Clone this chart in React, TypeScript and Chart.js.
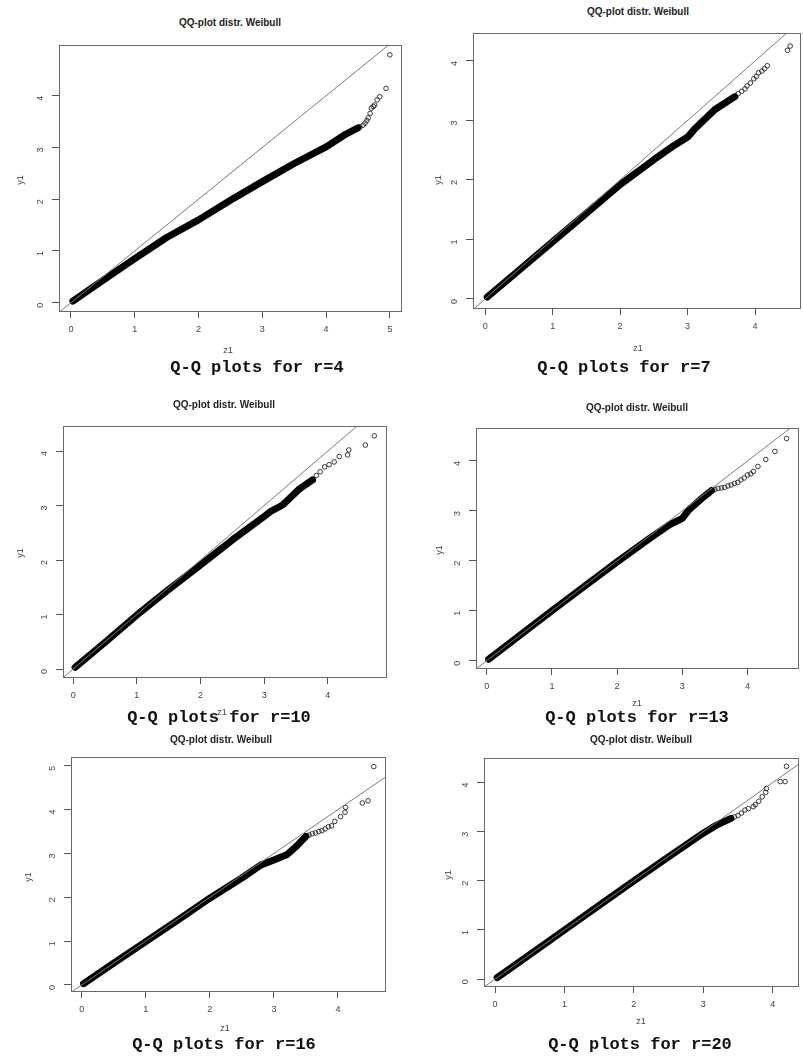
import React, { useEffect, useRef } from "react";
import { Chart, registerables } from "chart.js";

Chart.register(...registerables);

// ---------- data ----------
const REF_X = [-1, 6];
const REF_Y = [-1, 6];

const TICKS_0_5 = [0, 1, 2, 3, 4, 5];
const TICKS_0_4 = [0, 1, 2, 3, 4];

// r = 4
const r4BandX = [0.03, 0.25, 0.5, 1.0, 1.5, 2.0, 2.5, 3.0, 3.5, 4.0, 4.3, 4.5];
const r4BandY = [0.03, 0.22, 0.43, 0.85, 1.26, 1.6, 1.98, 2.34, 2.69, 3.01, 3.25, 3.38];
const r4TailX = [4.53, 4.58, 4.61, 4.64, 4.66, 4.69, 4.71, 4.74, 4.76, 4.8, 4.84, 4.94, 5.0];
const r4TailY = [3.4, 3.43, 3.47, 3.52, 3.57, 3.66, 3.76, 3.79, 3.82, 3.92, 3.98, 4.14, 4.79];

// r = 7
const r7BandX = [0.03, 0.5, 1.0, 1.5, 2.0, 2.5, 2.8, 3.0, 3.1, 3.4, 3.7];
const r7BandY = [0.03, 0.48, 0.96, 1.44, 1.92, 2.34, 2.58, 2.72, 2.85, 3.18, 3.4];
const r7TailX = [3.75, 3.8, 3.85, 3.88, 3.93, 3.98, 4.02, 4.05, 4.1, 4.14, 4.18, 4.48, 4.52];
const r7TailY = [3.45, 3.49, 3.53, 3.58, 3.63, 3.7, 3.74, 3.8, 3.83, 3.87, 3.92, 4.18, 4.25];

// r = 10
const r10BandX = [0.03, 0.5, 1.0, 1.5, 2.0, 2.5, 3.0, 3.1, 3.29, 3.45, 3.56, 3.76];
const r10BandY = [0.03, 0.49, 0.99, 1.46, 1.91, 2.37, 2.8, 2.89, 3.01, 3.19, 3.31, 3.47];
const r10TailX = [3.82, 3.88, 3.95, 4.02, 4.1, 4.18, 4.31, 4.33, 4.59, 4.73];
const r10TailY = [3.55, 3.62, 3.71, 3.75, 3.8, 3.9, 3.93, 4.02, 4.11, 4.28];

// r = 13
const r13BandX = [0.03, 0.5, 1.0, 1.5, 2.0, 2.5, 2.8, 3.0, 3.1, 3.3, 3.45];
const r13BandY = [0.03, 0.5, 1.0, 1.49, 1.98, 2.45, 2.72, 2.85, 3.02, 3.25, 3.41];
const r13TailX = [3.5, 3.55, 3.6, 3.65, 3.7, 3.75, 3.8, 3.85, 3.9, 3.95, 4.0, 4.05, 4.09, 4.16, 4.28, 4.42, 4.6];
const r13TailY = [3.43, 3.45, 3.46, 3.47, 3.5, 3.52, 3.55, 3.57, 3.62, 3.66, 3.72, 3.74, 3.79, 3.89, 4.03, 4.19, 4.45];

// r = 16
const r16BandX = [0.03, 0.5, 1.0, 1.5, 2.0, 2.5, 2.8, 3.0, 3.2, 3.35, 3.5];
const r16BandY = [0.03, 0.5, 0.99, 1.48, 1.98, 2.44, 2.74, 2.85, 2.97, 3.16, 3.39];
const r16TailX = [3.55, 3.6, 3.65, 3.7, 3.75, 3.8, 3.85, 3.9, 3.95, 4.04, 4.11, 4.12, 4.38, 4.47, 4.56];
const r16TailY = [3.42, 3.45, 3.47, 3.5, 3.52, 3.56, 3.61, 3.63, 3.73, 3.84, 3.94, 4.05, 4.15, 4.2, 4.98];

// r = 20
const r20BandX = [0.03, 0.5, 1.0, 1.5, 2.0, 2.5, 3.0, 3.2, 3.4];
const r20BandY = [0.03, 0.5, 1.0, 1.5, 2.0, 2.49, 2.97, 3.14, 3.27];
const r20TailX = [3.45, 3.5, 3.55, 3.6, 3.65, 3.72, 3.75, 3.8, 3.85, 3.9, 3.91, 4.11, 4.18, 4.2];
const r20TailY = [3.3, 3.33, 3.38, 3.44, 3.47, 3.51, 3.55, 3.62, 3.71, 3.8, 3.88, 4.02, 4.02, 4.33];

const TITLE = "QQ-plot distr. Weibull";
const X_LABEL = "z1";
const Y_LABEL = "y1";

// ---------- layout ----------
type Spec = {
  box: [number, number, number, number];
  xr: [number, number];
  yr: [number, number];
  xTicks: number[];
  yTicks: number[];
  bx: number[];
  by: number[];
  tx: number[];
  ty: number[];
  title: [number, number];
  ylab: [number, number];
  xlab: [number, number];
  caption: string;
  cap: [number, number];
};

const SPECS: Spec[] = [
  {
    box: [59, 45, 402, 312], xr: [-0.188, 5.19], yr: [-0.18, 4.98],
    xTicks: TICKS_0_5, yTicks: TICKS_0_4,
    bx: r4BandX, by: r4BandY, tx: r4TailX, ty: r4TailY,
    title: [230, 23], ylab: [20, 180], xlab: [228, 350],
    caption: "Q-Q plots for r=4", cap: [257, 368],
  },
  {
    box: [473, 33, 801, 309], xr: [-0.18, 4.68], yr: [-0.17, 4.47],
    xTicks: TICKS_0_4, yTicks: TICKS_0_4,
    bx: r7BandX, by: r7BandY, tx: r7TailX, ty: r7TailY,
    title: [638, 12], ylab: [438, 180], xlab: [638, 348],
    caption: "Q-Q plots for r=7", cap: [624, 368],
  },
  {
    box: [63, 426, 387, 678], xr: [-0.16, 4.93], yr: [-0.165, 4.46],
    xTicks: TICKS_0_4, yTicks: TICKS_0_4,
    bx: r10BandX, by: r10BandY, tx: r10TailX, ty: r10TailY,
    title: [224, 405], ylab: [20, 553], xlab: [222, 712],
    caption: "Q-Q plots for r=10", cap: [219, 718],
  },
  {
    box: [476, 428, 799, 669], xr: [-0.164, 4.79], yr: [-0.166, 4.66],
    xTicks: TICKS_0_4, yTicks: TICKS_0_4,
    bx: r13BandX, by: r13BandY, tx: r13TailX, ty: r13TailY,
    title: [637, 408], ylab: [439, 550], xlab: [637, 703],
    caption: "Q-Q plots for r=13", cap: [637, 718],
  },
  {
    box: [71, 757, 386, 992], xr: [-0.167, 4.75], yr: [-0.16, 5.2],
    xTicks: TICKS_0_4, yTicks: TICKS_0_5,
    bx: r16BandX, by: r16BandY, tx: r16TailX, ty: r16TailY,
    title: [221, 740], ylab: [28, 877], xlab: [225, 1028],
    caption: "Q-Q plots for r=16", cap: [224, 1045],
  },
  {
    box: [484, 758, 799, 987], xr: [-0.16, 4.38], yr: [-0.16, 4.5],
    xTicks: TICKS_0_4, yTicks: TICKS_0_4,
    bx: r20BandX, by: r20BandY, tx: r20TailX, ty: r20TailY,
    title: [641, 740], ylab: [448, 875], xlab: [641, 1021],
    caption: "Q-Q plots for r=20", cap: [640, 1045],
  },
];

const PADL = 50;
const PADT = 6;
const PADR = 6;
const PADB = 36;

const boxPlugin = {
  id: "rbox",
  afterDatasetsDraw(chart: any) {
    const { ctx, chartArea } = chart;
    const { left, top, right, bottom } = chartArea;
    ctx.save();
    ctx.strokeStyle = "#6a6a6a";
    ctx.lineWidth = 1;
    ctx.strokeRect(left + 0.5, top + 0.5, right - left - 1, bottom - top - 1);
    ctx.restore();
  },
};

const zip = (xs: number[], ys: number[]) => xs.map((x, i) => ({ x, y: ys[i] }));

function Panel({ s }: { s: Spec }) {
  const ref = useRef<HTMLCanvasElement | null>(null);
  const [L, T, R, B] = s.box;
  const w = R - L + PADL + PADR;
  const h = B - T + PADT + PADB;

  useEffect(() => {
    if (!ref.current) return;
    const tickFont = { size: 9, family: "'Liberation Sans', Arial, sans-serif" };
    const chart = new Chart(ref.current, {
      type: "scatter",
      data: {
        datasets: [
          {
            data: zip(REF_X, REF_Y),
            showLine: true,
            borderColor: "#7a7a7a",
            borderWidth: 1,
            pointRadius: 0,
            clip: 0,
          } as any,
          {
            data: zip(s.bx, s.by),
            showLine: true,
            borderColor: "#000",
            borderWidth: 7,
            borderCapStyle: "round",
            borderJoinStyle: "round",
            pointRadius: 0,
            clip: 0,
          } as any,
          {
            data: zip(s.tx, s.ty),
            showLine: false,
            pointRadius: 2.3,
            pointBorderWidth: 0.9,
            pointBorderColor: "#222",
            pointBackgroundColor: "rgba(0,0,0,0)",
            clip: 6,
          } as any,
        ],
      },
      options: {
        responsive: false,
        animation: false,
        events: [],
        layout: { padding: { left: 0, top: PADT, right: PADR, bottom: 0 } },
        plugins: {
          legend: { display: false },
          tooltip: { enabled: false },
          title: { display: false },
        },
        scales: {
          x: {
            type: "linear",
            min: s.xr[0],
            max: s.xr[1],
            afterFit: (sc: any) => {
              sc.height = PADB;
              sc.paddingLeft = 0;
              sc.paddingRight = 0;
              sc.paddingTop = 0;
              sc.paddingBottom = 0;
            },
            afterBuildTicks: (sc: any) => {
              sc.ticks = s.xTicks.map((v) => ({ value: v }));
            },
            grid: { drawOnChartArea: false, drawTicks: true, tickLength: 6, color: "#555" },
            border: { display: false },
            ticks: { font: tickFont, color: "#444", padding: 6, maxRotation: 0, autoSkip: false },
          },
          y: {
            type: "linear",
            min: s.yr[0],
            max: s.yr[1],
            afterFit: (sc: any) => {
              sc.width = PADL;
              sc.paddingLeft = 0;
              sc.paddingRight = 0;
              sc.paddingTop = 0;
              sc.paddingBottom = 0;
            },
            afterBuildTicks: (sc: any) => {
              sc.ticks = s.yTicks.map((v) => ({ value: v }));
            },
            grid: { drawOnChartArea: false, drawTicks: true, tickLength: 7, color: "#555" },
            border: { display: false },
            ticks: { font: tickFont, color: "#444", padding: 11, minRotation: 90, maxRotation: 90, autoSkip: false },
          },
        },
      },
      plugins: [boxPlugin],
    } as any);
    return () => chart.destroy();
  }, []);

  const lab: React.CSSProperties = {
    position: "absolute",
    font: "9px 'Liberation Sans', Arial, sans-serif",
    color: "#444",
    width: 40,
    textAlign: "center",
    lineHeight: "12px",
  };

  return (
    <>
      <canvas
        ref={ref}
        width={w}
        height={h}
        style={{ position: "absolute", left: L - PADL, top: T - PADT, width: w, height: h }}
      />
      <div
        style={{
          position: "absolute",
          left: s.title[0] - 100,
          top: s.title[1] - 6,
          width: 200,
          textAlign: "center",
          font: "bold 10px 'Liberation Sans', Arial, sans-serif",
          lineHeight: "12px",
          color: "#222",
        }}
      >
        {TITLE}
      </div>
      <div style={{ ...lab, left: s.ylab[0] - 20, top: s.ylab[1] - 6, transform: "rotate(-90deg)" }}>{Y_LABEL}</div>
      <div style={{ ...lab, left: s.xlab[0] - 20, top: s.xlab[1] - 6 }}>{X_LABEL}</div>
      <div
        style={{
          position: "absolute",
          left: s.cap[0] - 150,
          top: s.cap[1] - 10,
          width: 300,
          textAlign: "center",
          font: "bold 17px 'Liberation Mono', 'Courier New', monospace",
          lineHeight: "20px",
          color: "#111",
          whiteSpace: "pre",
        }}
      >
        {s.caption}
      </div>
    </>
  );
}

export default function App() {
  return (
    <div
      style={{
        position: "absolute",
        left: 0,
        top: 0,
        width: 803,
        height: 1061,
        overflow: "hidden",
        background: "#fff",
      }}
    >
      {SPECS.map((s, i) => (
        <Panel key={i} s={s} />
      ))}
    </div>
  );
}
